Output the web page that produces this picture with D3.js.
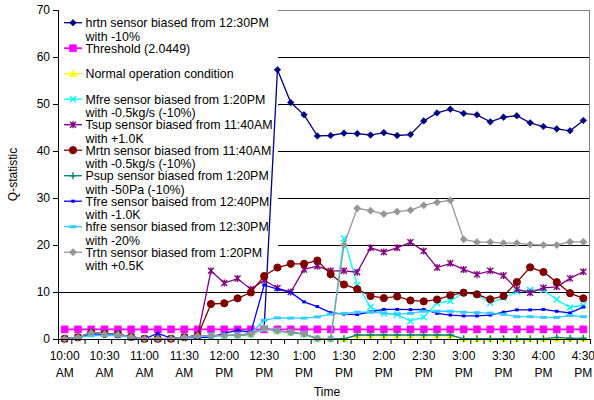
<!DOCTYPE html>
<html>
<head>
<meta charset="utf-8">
<script src="https://cdn.jsdelivr.net/npm/d3@7"></script>
<style>
  body { margin: 0; background: #fff; }
  text { font-family: Arial, "Liberation Sans", sans-serif; }
</style>
</head>
<body>
<div id="chart"></div>
<script>
//-- Data
var times = ["10:00","10:10","10:20","10:30","10:40","10:50","11:00","11:10","11:20","11:30",
             "11:40","11:50","12:00","12:10","12:20","12:30","12:40","12:50","13:00","13:10",
             "13:20","13:30","13:40","13:50","14:00","14:10","14:20","14:30","14:40","14:50",
             "15:00","15:10","15:20","15:30","15:40","15:50","16:00","16:10","16:20","16:30"];
var tickLabels = ["10:00 AM","10:30 AM","11:00 AM","11:30 AM","12:00 PM","12:30 PM","1:00 PM",
                  "1:30 PM","2:00 PM","2:30 PM","3:00 PM","3:30 PM","4:00 PM","4:30 PM"];
var yTicks = [0, 10, 20, 30, 40, 50, 60, 70];

var hrtn = [0.05,0.35,1.35,1.1,1.0,0.45,0.05,0.05,0.05,0.4,0.65,0.7,0.75,0.8,1.05,2.3,
            57.3,50.3,47.7,43.2,43.3,43.8,43.7,43.4,43.9,43.3,43.5,46.4,48.1,48.9,48.0,47.7,
            46.2,47.2,47.5,46.0,45.2,44.7,44.3,46.5];
var threshold = [2.0449,2.0449,2.0449,2.0449,2.0449,2.0449,2.0449,2.0449,2.0449,2.0449,
                 2.0449,2.0449,2.0449,2.0449,2.0449,2.0449,2.0449,2.0449,2.0449,2.0449,
                 2.0449,2.0449,2.0449,2.0449,2.0449,2.0449,2.0449,2.0449,2.0449,2.0449,
                 2.0449,2.0449,2.0449,2.0449,2.0449,2.0449,2.0449,2.0449,2.0449,2.0449];
var normal = [0.05,0.35,1.35,1.1,1.0,0.45,0.05,0.05,0.05,0.4,0.65,0.7,0.75,0.8,1.05,2.3,1.75,1.4,1.05,0.1,
              0.05,0.05,0.75,0.75,0.75,0.75,0.75,0.75,0.75,0.75,0.05,0.05,0.05,0.05,0.05,0.05,0.05,0.05,0.05,0.05];
var mfre = [0.05,0.35,1.35,1.1,1.0,0.45,0.05,0.05,0.05,0.4,0.65,0.7,0.75,0.8,1.05,2.3,1.75,1.4,1.05,0.1,
            0.05,21.4,11.5,6.8,5.4,5.2,3.85,4.65,7.65,8.1,9.85,9.5,7.7,8.8,10.1,10.45,10.4,8.4,6.7,7.2];
var tsup = [0.05,0.35,1.35,1.1,1.0,0.45,0.05,0.05,0.05,0.4,0.65,
            14.5,11.9,12.85,10.6,12.5,10.85,10.0,14.8,15.5,14.5,14.5,14.2,19.4,18.5,19.4,20.6,18.7,
            15.2,16.1,14.8,13.75,14.5,13.5,10.6,9.85,10.9,11.1,12.9,14.3];
var mrtn = [0.05,0.35,1.35,1.1,1.0,0.45,0.05,0.05,0.05,0.4,0.65,
            7.45,7.6,8.65,9.9,13.4,15.2,16.0,16.0,16.7,13.8,11.6,10.6,9.15,8.7,9.05,8.2,8.0,
            8.4,9.3,9.85,9.5,8.45,9.15,12.1,15.25,14.25,12.1,9.75,8.65];
var psup = [0.05,0.35,1.35,1.1,1.0,0.45,0.05,0.05,0.05,0.4,0.65,0.7,0.75,0.8,1.05,2.3,1.75,1.4,1.05,0.1,
            0.05,0.05,0.85,0.85,0.85,0.85,0.85,0.85,0.85,0.85,0.05,0.05,0.05,0.05,0.05,0.05,0.05,0.35,0.15,0.15];
var tfre = [0.05,0.3,1.1,1.0,0.9,0.4,0.05,1.2,0.2,0.3,0.3,0.4,1.2,1.9,1.4,
            11.5,10.6,9.9,7.9,6.9,5.6,5.3,5.2,5.8,6.3,6.3,6.25,6.3,5.45,5.1,4.9,4.9,5.1,5.7,
            6.2,6.2,6.3,5.9,5.55,6.8];
var hfre = [0.1,0.3,0.7,0.75,0.7,0.4,0.1,0.05,0.1,0.3,0.5,0.6,0.7,0.8,1.2,
            4.0,4.5,4.45,4.45,4.7,5.3,5.45,5.7,5.7,5.5,5.3,5.45,5.9,5.9,5.9,5.7,5.6,5.5,5.25,
            4.75,4.75,4.6,4.6,5.0,4.75];
var trtn = [0.05,0.35,1.35,1.1,1.0,0.45,0.05,0.05,0.05,0.4,0.65,0.7,0.75,0.8,1.05,2.3,1.75,1.4,1.05,0.1,
            0.05,20.0,27.8,27.3,26.6,27.1,27.4,28.45,29.1,29.5,21.2,20.6,20.6,20.4,20.4,20.1,20.0,20.0,20.65,20.65];

var seriesNames = [
  ["hrtn sensor biased from 12:30PM", "with -10%"],
  ["Threshold (2.0449)"],
  ["Normal operation condition"],
  ["Mfre sensor biased from 1:20PM", "with -0.5kg/s (-10%)"],
  ["Tsup sensor biased from 11:40AM", "with +1.0K"],
  ["Mrtn sensor biased from 11:40AM", "with -0.5kg/s (-10%)"],
  ["Psup sensor biased from 1:20PM", "with -50Pa (-10%)"],
  ["Tfre sensor baised from 12:40PM", "with -1.0K"],
  ["hfre sensor biased from 12:30PM", "with -20%"],
  ["Trtn sensor biased from 1:20PM", "with +0.5K"]
];
var seriesValues = [hrtn, threshold, normal, mfre, tsup, mrtn, psup, tfre, hfre, trtn];
var seriesColors = ["#000080","#FF00FF","#FFFF00","#00FFFF","#800080","#800000","#008080","#0000FF","#33CCFF","#969696"];
var seriesMarkers = ["diamond","square","triangle","x","star","circle","plus","dot","dash","diamondG"];

//-- Dimension & margin
var totWidth = 594, totHeight = 400;
var margin = {top: 10, right: 4, bottom: 61, left: 58},
    width = totWidth - margin.left - margin.right,
    height = totHeight - margin.top - margin.bottom;

var svg = d3.select("#chart")
  .append("svg")
    .attr("width", totWidth)
    .attr("height", totHeight)
  .append("g")
    .attr("transform", "translate(" + margin.left + "," + margin.top + ")");

var x = d3.scaleBand().domain(times).range([0, width]).padding(0);
var xLin = d3.scaleLinear().domain([0, times.length]).range([0, width]);
var y = d3.scaleLinear().domain([0, 70]).range([height, 0]);
var cx = function(i) { return x(times[i]) + x.bandwidth() / 2; };

//-- Gridlines
svg.append("g")
  .call(d3.axisLeft(y).tickValues([10, 20, 30, 40, 50, 60]).tickSize(-width).tickFormat(""))
  .call(function(g) { g.select(".domain").remove(); })
  .selectAll("line").attr("stroke", "#000").attr("shape-rendering", "crispEdges");

//-- Frame top / right
svg.append("path")
  .attr("d", "M0,0.5H" + (width - 0.5) + "V" + height)
  .attr("fill", "none").attr("stroke", "#808080").attr("shape-rendering", "crispEdges");

//-- Legend background (covers gridlines)
svg.append("rect")
  .attr("x", 1).attr("y", -6).attr("width", 219).attr("height", 276)
  .attr("fill", "#fff");

//-- Marker shapes
function markerPath(type) {
  switch (type) {
    case "diamond": return "M0,-3.3L3.3,0L0,3.3L-3.3,0Z";
    case "diamondG": return "M0,-3.6L3.6,0L0,3.6L-3.6,0Z";
    case "square": return "M-3.5,-3.5H3.5V3.5H-3.5Z";
    case "triangle": return "M0,-3.6L3.6,2.8H-3.6Z";
    case "x": return "M-3,-3L3,3M-3,3L3,-3";
    case "star": return "M-3,-3L3,3M-3,3L3,-3M0,-3.5V3.5";
    case "plus": return "M-3.5,0H3.5M0,-3.5V3.5";
    case "dot": return "M-1.8,0H1.8";
    case "dash": return "M-3.5,0H3.5";
  }
  return null;
}
function drawMarker(g, type, color) {
  if (type === "circle") {
    g.append("circle").attr("r", 3.6).attr("fill", color).attr("stroke", color);
    return;
  }
  var p = g.append("path").attr("d", markerPath(type));
  if (type === "x" || type === "star" || type === "plus") {
    p.attr("fill", "none").attr("stroke", color).attr("stroke-width", 1.4);
  } else if (type === "dot") {
    p.attr("fill", "none").attr("stroke", color).attr("stroke-width", 3);
  } else if (type === "dash") {
    p.attr("fill", "none").attr("stroke", color).attr("stroke-width", 3);
  } else {
    p.attr("fill", color).attr("stroke", color).attr("stroke-width", 0.6);
  }
}

//-- Series
var line = d3.line()
  .x(function(d, i) { return cx(i); })
  .y(function(d) { return y(d); });

seriesValues.forEach(function(vals, s) {
  var g = svg.append("g");
  g.append("path")
    .datum(vals)
    .attr("d", line)
    .attr("fill", "none")
    .attr("stroke", seriesColors[s])
    .attr("stroke-width", s === 1 ? 1.8 : 1.3);
  vals.forEach(function(v, i) {
    var m = g.append("g").attr("transform", "translate(" + cx(i) + "," + y(v) + ")");
    drawMarker(m, seriesMarkers[s], seriesColors[s]);
  });
});

//-- Legend
var legX = 6, legTextX = 27.5, legY0 = 12.7, legStep = 25.5, lineGap = 13.5;
seriesNames.forEach(function(lines, s) {
  var yy = legY0 + s * legStep;
  var g = svg.append("g");
  g.append("line")
    .attr("x1", legX).attr("x2", legX + 18).attr("y1", yy).attr("y2", yy)
    .attr("stroke", seriesColors[s]).attr("stroke-width", s === 1 ? 1.8 : 1.3);
  drawMarker(g.append("g").attr("transform", "translate(" + (legX + 9) + "," + yy + ")"),
             seriesMarkers[s], seriesColors[s]);
  lines.forEach(function(t, k) {
    g.append("text")
      .attr("x", legTextX)
      .attr("y", yy + k * lineGap)
      .attr("dy", "0.36em")
      .style("font-size", "12.4px")
      .text(t);
  });
});

//-- Y axis
var yAxis = svg.append("g")
  .call(d3.axisLeft(y).tickValues(yTicks).tickSize(5).tickPadding(3));
yAxis.select(".domain").attr("stroke", "#000");
yAxis.selectAll("text").style("font-size", "12px").attr("fill", "#000");

//-- X axis: tick marks between categories
svg.append("g")
  .attr("transform", "translate(0," + height + ")")
  .call(d3.axisBottom(xLin).tickValues(d3.range(times.length + 1)).tickSize(5).tickSizeOuter(0).tickFormat(""));

//-- X axis: labels every 30 minutes
var labelCats = times.filter(function(d, i) { return i % 3 === 0; });
var xLab = svg.append("g")
  .attr("transform", "translate(0," + height + ")")
  .call(d3.axisBottom(x).tickValues(labelCats).tickSize(0).tickFormat(""));
xLab.select(".domain").remove();
xLab.selectAll(".tick").each(function(d, i) {
  var parts = tickLabels[i].split(" ");
  var t = d3.select(this).append("text")
    .attr("fill", "#000")
    .attr("text-anchor", "middle")
    .style("font-size", "12px");
  t.append("tspan").attr("x", 0).attr("y", 21).text(parts[0]);
  t.append("tspan").attr("x", 0).attr("y", 38).text(parts[1]);
});

//-- Axis titles
svg.append("text")
  .attr("text-anchor", "middle")
  .attr("transform", "translate(" + (-margin.left + 17) + "," + (height / 2) + ")rotate(-90)")
  .style("font-size", "12px")
  .text("Q-statistic");
svg.append("text")
  .attr("text-anchor", "middle")
  .attr("x", width / 2 + 3)
  .attr("y", height + 57)
  .style("font-size", "12px")
  .text("Time");
</script>
</body>
</html>
